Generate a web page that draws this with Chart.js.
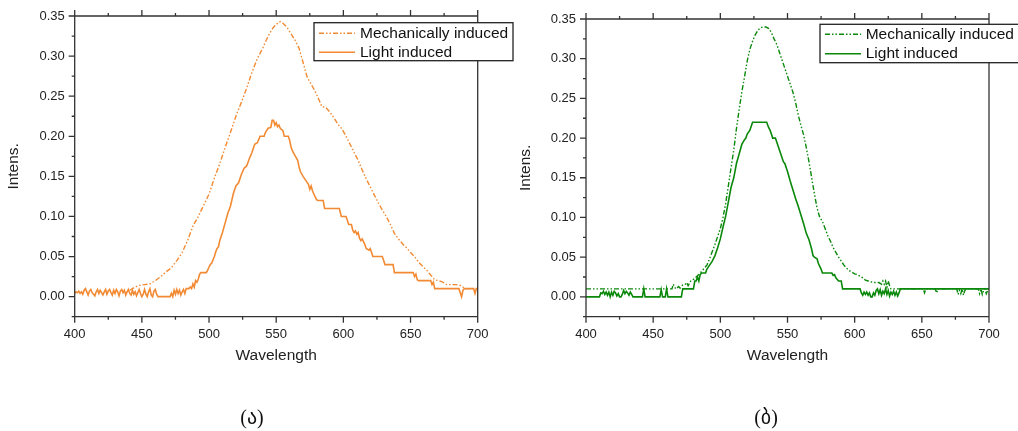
<!DOCTYPE html>
<html>
<head>
<meta charset="utf-8">
<script src="https://cdn.jsdelivr.net/npm/chart.js@4.4.1/dist/chart.umd.min.js"></script>
<style>
  body { margin: 0; background: #fff; width: 1018px; height: 431px; position: relative; overflow: hidden; }
  canvas { position: absolute; top: 0; }
  #chartA { left: 0; }
  #chartB { left: 509px; }
  .cap { position: absolute; top: 405px; font-family: "Liberation Serif", "DejaVu Sans", serif; font-size: 20px; color: #111; transform: translateX(-50%); }
</style>
</head>
<body>
<canvas id="chartA" width="530" height="431"></canvas>
<canvas id="chartB" width="509" height="431"></canvas>
<div class="cap" id="capA" style="left:252px"></div>
<div class="cap" id="capB" style="left:766px"></div>
<script>
// ---- data ----
var xTicks = [400, 450, 500, 550, 600, 650, 700];
var yTicks = [0, 0.05, 0.10, 0.15, 0.20, 0.25, 0.30, 0.35];
var seriesNames = ["Mechanically induced", "Light induced"];
var xTitle = "Wavelength";
var yTitle = "Intens.";
var captions = ["(ა)", "(ბ)"];

// (ა) mechanically induced  [wavelength, intensity]
var mechA = [[441,.008],[443,.01],[445,.012],[448,.014],[452,.015],[456,.016],[460,.02],[464,.025],[468,.031],[472,.036],[476,.045],[480,.055],[484,.07],[488,.088],[492,.1],[496,.114],[500,.128],[504,.148],[508,.166],[512,.186],[516,.205],[520,.225],[524,.242],[528,.26],[532,.28],[536,.297],[540,.31],[544,.325],[548,.336],[551,.341],[553,.343],[555,.341],[558,.336],[561,.328],[564,.32],[567,.31],[570,.292],[573,.274],[576,.265],[579,.256],[582,.245],[584,.237],[587,.236],[590,.23],[593,.223],[596,.215],[599,.209],[602,.2],[605,.19],[608,.18],[611,.17],[614,.158],[617,.147],[620,.137],[623,.127],[626,.117],[629,.108],[632,.1],[635,.09],[638,.079],[641,.072],[644,.066],[647,.061],[650,.055],[653,.05],[656,.043],[659,.038],[662,.033],[665,.027],[668,.021],[671,.02],[674,.018],[677,.015],[680,.015],[684,.015],[687,.014],[689,.012],[690,.01],[700,.01]];

// (ა) light induced
var lightA = [[400,.004],[401,.006],[402,.005],[403,.007],[404,.004],[405,.006],[406,.003],[407,.008],[408,.01],[409,.006],[410,.002],[411,.007],[412,.009],[413,.005],[414,.003],[415,.001],[416,.006],[417,.009],[418,.004],[419,.008],[420,.005],[421,.002],[422,.006],[423,.009],[424,.003],[425,.007],[426,.009],[427,.005],[428,.002],[429,.008],[430,.004],[431,.009],[432,.006],[433,.001],[434,.007],[435,.009],[436,.005],[437,.008],[438,.002],[439,.006],[440,.009],[441,.004],[442,.002],[443,.008],[444,.003],[445,.006],[446,.001],[447,.005],[448,.009],[449,.004],[450,0],[451,.003],[452,.009],[453,.003],[454,0],[455,.006],[456,.01],[457,.002],[458,0],[459,.007],[460,.009],[461,.003],[462,0],[471,0],[472,.004],[473,0],[474,.008],[475,.003],[476,.009],[477,.004],[478,.008],[479,.002],[480,.006],[481,.009],[482,.004],[483,.01],[485,.01],[486,.012],[487,.01],[488,.016],[489,.012],[490,.02],[491,.018],[492,.022],[493,.028],[494,.03],[498,.03],[499,.033],[500,.037],[501,.04],[502,.042],[503,.046],[504,.05],[505,.056],[506,.06],[507,.062],[508,.07],[510,.08],[512,.092],[514,.104],[516,.113],[518,.128],[520,.138],[522,.142],[524,.152],[526,.16],[528,.163],[530,.172],[532,.18],[534,.19],[536,.192],[538,.2],[541,.2],[542,.205],[544,.21],[546,.211],[547,.22],[548,.22],[549,.214],[550,.217],[551,.212],[552,.214],[553,.21],[555,.207],[556,.2],[559,.2],[560,.195],[561,.187],[562,.182],[564,.176],[566,.17],[567,.162],[568,.156],[570,.15],[572,.145],[574,.14],[575,.134],[576,.138],[577,.132],[578,.128],[580,.121],[581,.12],[585,.12],[586,.11],[597,.11],[598.5,.1],[602,.1],[603,.095],[604,.09],[606,.09],[607,.083],[608,.08],[609,.082],[610,.078],[611,.08],[612,.073],[613,.07],[614,.072],[616,.065],[617,.06],[619,.058],[620,.06],[621,.055],[622,.05],[629,.05],[630,.045],[631,.04],[637,.04],[638,.03],[652,.03],[653,.025],[654,.028],[655,.021],[656,.02],[665,.02],[666,.015],[667,.018],[668,.01],[686,.01],[687,.005],[688,0],[689,.008],[690,.01],[697,.01],[698,.004],[699,.01],[700,.01]];

// (ბ) mechanically induced
var mechB = [[400,.01],[464,.01],[465,.016],[466,.012],[467,.01],[469,.013],[470,.011],[472,.015],[474,.016],[475,.018],[476,.014],[478,.02],[480,.022],[482,.025],[484,.028],[486,.032],[488,.036],[490,.04],[492,.048],[494,.057],[496,.066],[498,.076],[500,.086],[502,.1],[504,.118],[506,.14],[508,.163],[510,.185],[512,.212],[514,.236],[516,.258],[518,.277],[520,.297],[522,.312],[524,.322],[526,.33],[528,.336],[530,.339],[532,.34],[534,.34],[536,.338],[538,.333],[540,.325],[542,.318],[544,.308],[546,.298],[548,.288],[550,.278],[552,.268],[554,.258],[556,.245],[558,.229],[560,.216],[562,.204],[564,.188],[566,.17],[568,.15],[570,.13],[572,.112],[574,.1],[576,.095],[578,.086],[580,.077],[582,.07],[584,.062],[586,.056],[588,.05],[590,.045],[592,.04],[594,.036],[596,.033],[598,.031],[600,.029],[602,.028],[604,.026],[606,.024],[608,.021],[610,.02],[612,.019],[614,.018],[616,.018],[618,.018],[620,.016],[621,.02],[622,.016],[623,.02],[624,.012],[625,.02],[626,.014],[627,.01],[651,.01],[652,.005],[653,.01],[660,.01],[661,.005],[662,.01],[676,.01],[677,.003],[678,.008],[679,.004],[680,.01],[681,.002],[682,.008],[683,.01],[692,.01],[693,.004],[694,.01],[695,.003],[696,.008],[697,.01],[698,.004],[699,.008],[700,.01]];

// (ბ) light induced
var lightB = [[400,0],[410,0],[411,.005],[412,.004],[413,.007],[414,.003],[415,.006],[416,.002],[417,.006],[418,0],[419,.006],[420,.002],[421,.007],[422,.005],[423,.001],[424,.004],[425,0],[426,0],[427,.003],[428,.008],[429,.004],[430,.007],[431,.005],[432,.002],[433,.006],[434,.003],[435,0],[442,0],[443,.01],[444,0],[455,0],[456,.009],[457,0],[459,0],[460,.01],[461,0],[471,0],[472,.01],[480,.01],[481,.02],[482,.02],[483,.025],[484,.02],[485,.028],[486,.03],[489,.03],[490,.035],[492,.04],[494,.045],[496,.052],[498,.062],[500,.073],[502,.088],[504,.102],[506,.12],[508,.138],[510,.15],[512,.168],[514,.18],[516,.192],[518,.198],[519,.2],[520,.205],[522,.21],[523,.215],[524,.22],[534.5,.22],[536,.213],[537,.21],[538,.205],[539,.2],[541,.2],[542,.195],[544,.185],[546,.175],[547,.17],[548,.168],[550,.158],[552,.146],[554,.135],[556,.124],[558,.114],[560,.103],[562,.092],[564,.08],[566,.072],[568,.06],[569,.052],[570,.05],[572,.048],[573,.042],[575,.035],[576,.03],[583,.03],[584,.027],[585,.028],[586,.024],[588,.02],[590,.02],[591,.01],[604,.01],[605,.005],[606,.002],[607,.006],[608,.003],[609,.006],[610,.002],[611,.005],[612,0],[613,0],[614,.005],[615,.002],[616,.008],[617,.01],[618,.004],[619,.009],[620,.002],[621,.007],[622,.004],[623,.01],[624,.003],[625,.008],[626,.001],[627,.006],[628,.003],[629,.007],[630,.002],[631,.006],[632,.001],[633,.005],[634,.01],[700,.01]];

// ---- style ----
var orange = "#f28a33";
var green = "#0a880a";
var axisColor = "#333";
var dashDotDot = [5, 2, 1.5, 2, 1.5, 2];

Chart.defaults.font.family = "'Liberation Sans', Arial, sans-serif";
Chart.defaults.color = "#222";

function toPoints(arr) {
  return arr.map(function (p) { return { x: p[0], y: p[1] }; });
}

// frame, minor ticks and top ticks
var frameTicks = {
  id: "frameTicks",
  afterDraw: function (chart) {
    var ctx = chart.ctx, a = chart.chartArea;
    var x = chart.scales.x, y = chart.scales.y;
    ctx.save();
    ctx.strokeStyle = axisColor;
    ctx.lineWidth = 1.3;
    ctx.beginPath();
    ctx.rect(a.left, a.top, a.right - a.left, a.bottom - a.top);
    for (var i = 0; i < xTicks.length; i++) {
      var v = xTicks[i];
      var px = x.getPixelForValue(v);
      ctx.moveTo(px, a.bottom); ctx.lineTo(px, a.bottom + 6);
      ctx.moveTo(px, a.top); ctx.lineTo(px, a.top - 6);
      if (i < xTicks.length - 1) {
        var mx = x.getPixelForValue((v + xTicks[i + 1]) / 2);
        ctx.moveTo(mx, a.bottom); ctx.lineTo(mx, a.bottom + 3);
        ctx.moveTo(mx, a.top); ctx.lineTo(mx, a.top - 3);
      }
    }
    for (var j = 0; j < yTicks.length; j++) {
      var py = y.getPixelForValue(yTicks[j]);
      ctx.moveTo(a.left, py); ctx.lineTo(a.left - 6, py);
      var my = y.getPixelForValue(yTicks[j] - 0.025);
      ctx.moveTo(a.left, my); ctx.lineTo(a.left - 3, my);
    }
    ctx.stroke();
    ctx.restore();
  }
};

// legend box drawn inside the plot
var boxLegend = {
  id: "boxLegend",
  afterDraw: function (chart, args, o) {
    var ctx = chart.ctx;
    ctx.save();
    ctx.fillStyle = "#fff";
    ctx.fillRect(o.x, o.y, o.w, o.h);
    ctx.strokeStyle = "#222";
    ctx.lineWidth = 1.3;
    ctx.strokeRect(o.x, o.y, o.w, o.h);
    ctx.font = "15.5px 'Liberation Sans', Arial, sans-serif";
    ctx.textBaseline = "middle";
    chart.data.datasets.forEach(function (ds, k) {
      var ry = o.rows[k];
      ctx.strokeStyle = ds.borderColor;
      ctx.lineWidth = ds.borderWidth;
      ctx.setLineDash(ds.borderDash || []);
      ctx.beginPath();
      ctx.moveTo(o.s1, ry); ctx.lineTo(o.s2, ry);
      ctx.stroke();
      ctx.setLineDash([]);
      ctx.fillStyle = "#111";
      ctx.fillText(ds.label, o.tx, ry);
    });
    ctx.restore();
  }
};

function makeChart(id, mech, light, color, yw, titlePad, pad, legend) {
  return new Chart(id, {
    type: "line",
    data: {
      datasets: [{
        label: seriesNames[0],
        data: toPoints(mech),
        borderColor: color,
        borderWidth: 1.4,
        borderDash: dashDotDot,
        pointRadius: 0,
        tension: 0,
        order: 1
      }, {
        label: seriesNames[1],
        data: toPoints(light),
        borderColor: color,
        borderWidth: 1.6,
        pointRadius: 0,
        tension: 0,
        order: 0
      }]
    },
    options: {
      responsive: false,
      animation: false,
      layout: { padding: pad },
      plugins: {
        legend: { display: false },
        tooltip: { enabled: false },
        boxLegend: legend
      },
      scales: {
        x: {
          type: "linear",
          min: 400,
          max: 700,
          afterBuildTicks: function (s) { s.ticks = xTicks.map(function (v) { return { value: v }; }); },
          afterFit: function (s) { s.height = 48.3; },
          grid: { display: false, drawTicks: true, tickLength: 6 },
          border: { display: false },
          ticks: { font: { size: 13 }, padding: 4, maxRotation: 0, color: "#222" },
          title: { display: true, text: xTitle, font: { size: 15.5 }, padding: { top: 0, bottom: 0 }, color: "#222" }
        },
        y: {
          min: -0.025,
          max: 0.35,
          afterBuildTicks: function (s) { s.ticks = yTicks.map(function (v) { return { value: v }; }); },
          afterFit: function (s) { s.width = yw; },
          grid: { display: false, drawTicks: true, tickLength: 6 },
          border: { display: false },
          ticks: {
            font: { size: 13 }, padding: 4, color: "#222",
            callback: function (v) { return Number(v).toFixed(2); }
          },
          title: { display: true, text: yTitle, font: { size: 15.5 }, padding: { top: titlePad, bottom: 0 }, color: "#222" }
        }
      }
    },
    plugins: [frameTicks, boxLegend]
  });
}

makeChart("chartA", mechA, lightA, orange, 74.7, 4.7,
  { left: 0, top: 16, right: 52.3, bottom: 66 },
  { x: 314, y: 22.7, w: 199, h: 38, rows: [33.3, 52.3], s1: 319, s2: 355, tx: 360 });

makeChart("chartB", mechB, lightB, green, 77, 7.7,
  { left: 0, top: 19, right: 29, bottom: 66 },
  { x: 311, y: 24.3, w: 210, h: 38.4, rows: [34.3, 53.7], s1: 316, s2: 352, tx: 356.7 });

document.getElementById("capA").textContent = captions[0];
document.getElementById("capB").textContent = captions[1];
</script>
</body>
</html>
